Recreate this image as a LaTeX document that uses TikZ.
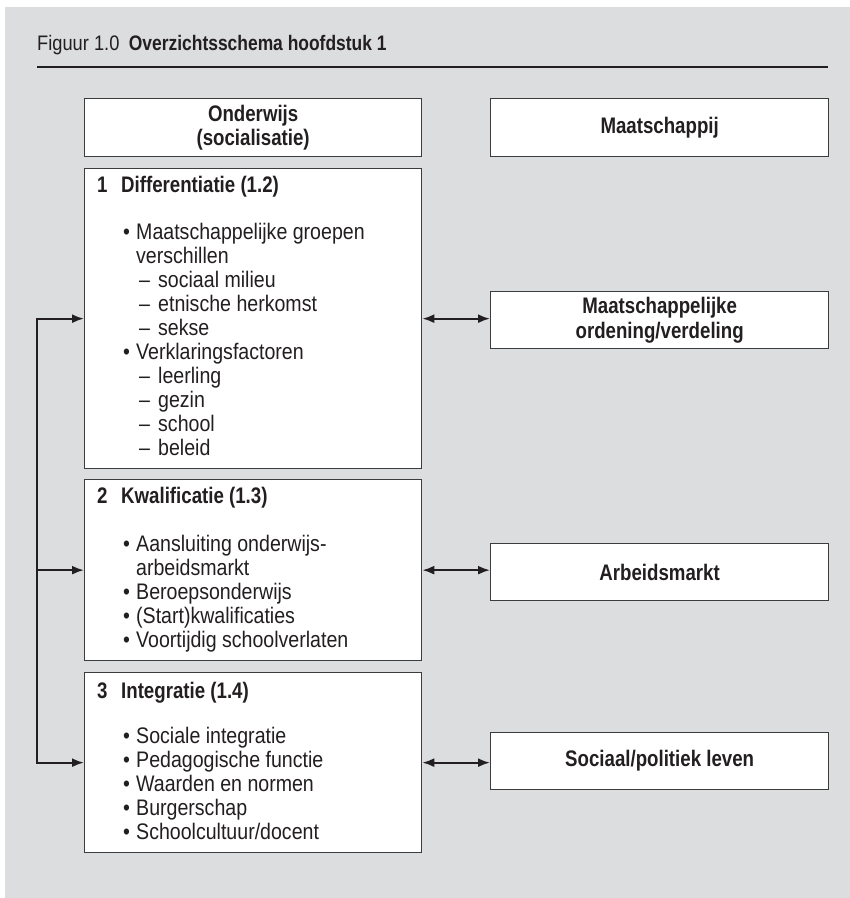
\documentclass[tikz,border=0pt]{standalone}
\usepackage{fontspec}
\setmainfont{Liberation Sans}[UprightFeatures={FakeStretch=0.87}, BoldFeatures={FakeStretch=0.83}]
\usetikzlibrary{arrows.meta}
\definecolor{bg}{HTML}{DCDDDF}
\definecolor{ink}{HTML}{231F20}
\definecolor{frame}{HTML}{3C3C3C}
\newcommand\myHead[2]{\makebox[24pt][l]{\bfseries #1}\textbf{#2}}
\newcommand\myBul[1]{\hspace*{26pt}\makebox[13pt][l]{•}#1}
\newcommand\myCont[1]{\hspace*{39pt}#1}
\newcommand\myDash[1]{\hspace*{42pt}\makebox[19pt][l]{–}#1}
\begin{document}
\begin{tikzpicture}[x=1pt,y=-1pt,
  box/.style={draw=frame, line width=1.3pt, fill=white, anchor=north west, inner sep=0pt, text=ink},
  bigbox/.style={box, minimum width=337pt},
  sidebox/.style={box, minimum width=338pt, minimum height=57pt, align=center,
     font=\fontsize{22.5}{25.5}\selectfont\bfseries},
  txt/.style={inner sep=0pt, text=ink, font=\fontsize{22.5}{24}\selectfont},
  conn/.style={line width=2pt, draw=ink},
  arrowhd/.tip={Latex[length=12pt,width=9pt]}
]
\useasboundingbox (0,0) rectangle (850,898);
\fill[bg] (5,7) rectangle (850,898);

% title
\node[txt, anchor=base west, font=\fontsize{21}{24}\selectfont] (title) at (37,50)
  {Figuur 1.0\hspace{0.45em}\textbf{Overzichtsschema hoofdstuk 1}};
\coordinate (ruleL) at (37,67);
\coordinate (ruleR) at (828,67);
\draw[line width=2pt, ink] (ruleL) -- (ruleR);

% header boxes
\node[bigbox, minimum height=58pt, align=center, font=\fontsize{22.5}{24}\selectfont\bfseries] (o) at (84,98)
  {Onderwijs\\(socialisatie)};
\node[sidebox, minimum height=58pt] (m) at (490,98) {Maatschappij};

% left boxes
\node[bigbox, minimum height=300pt] (b1) at (84,168) {};
\node[txt, anchor=base west] (t1) at (97,192) {\begin{tabular}[t]{@{}l@{}}
\myHead{1}{Differentiatie (1.2)}\\[23pt]
\myBul{Maatschappelijke groepen}\\
\myCont{verschillen}\\
\myDash{sociaal milieu}\\
\myDash{etnische herkomst}\\
\myDash{sekse}\\
\myBul{Verklaringsfactoren}\\
\myDash{leerling}\\
\myDash{gezin}\\
\myDash{school}\\
\myDash{beleid}
\end{tabular}};

\node[bigbox, minimum height=181pt] (b2) at (84,479) {};
\node[txt, anchor=base west] (t2) at (97,503) {\begin{tabular}[t]{@{}l@{}}
\myHead{2}{Kwalificatie (1.3)}\\[24pt]
\myBul{Aansluiting onderwijs-}\\
\myCont{arbeidsmarkt}\\
\myBul{Beroepsonderwijs}\\
\myBul{(Start)kwalificaties}\\
\myBul{Voortijdig schoolverlaten}
\end{tabular}};

\node[bigbox, minimum height=180pt] (b3) at (84,672) {};
\node[txt, anchor=base west] (t3) at (97,698) {\begin{tabular}[t]{@{}l@{}}
\myHead{3}{Integratie (1.4)}\\[21pt]
\myBul{Sociale integratie}\\
\myBul{Pedagogische functie}\\
\myBul{Waarden en normen}\\
\myBul{Burgerschap}\\
\myBul{Schoolcultuur/docent}
\end{tabular}};

% right boxes
\node[sidebox] (r1) at (490,291) {Maatschappelijke\\ordening/verdeling};
\node[sidebox] (r2) at (490,543) {Arbeidsmarkt};
\node[sidebox] (r3) at (490,732) {Sociaal/politiek leven};

% connectors
\coordinate (lx) at (37,0);
\draw[conn, arrowhd-arrowhd] (b1.west) -- (b1.west -| lx) -- (b3.west -| lx) -- (b3.west);
\draw[conn, -arrowhd] (b2.west -| lx) -- (b2.west);
\draw[conn, arrowhd-arrowhd] (b1.east) -- (b1.east -| r1.west);
\draw[conn, arrowhd-arrowhd] (b2.east) -- (b2.east -| r2.west);
\draw[conn, arrowhd-arrowhd] (b3.east) -- (b3.east -| r3.west);
\end{tikzpicture}
\end{document}
